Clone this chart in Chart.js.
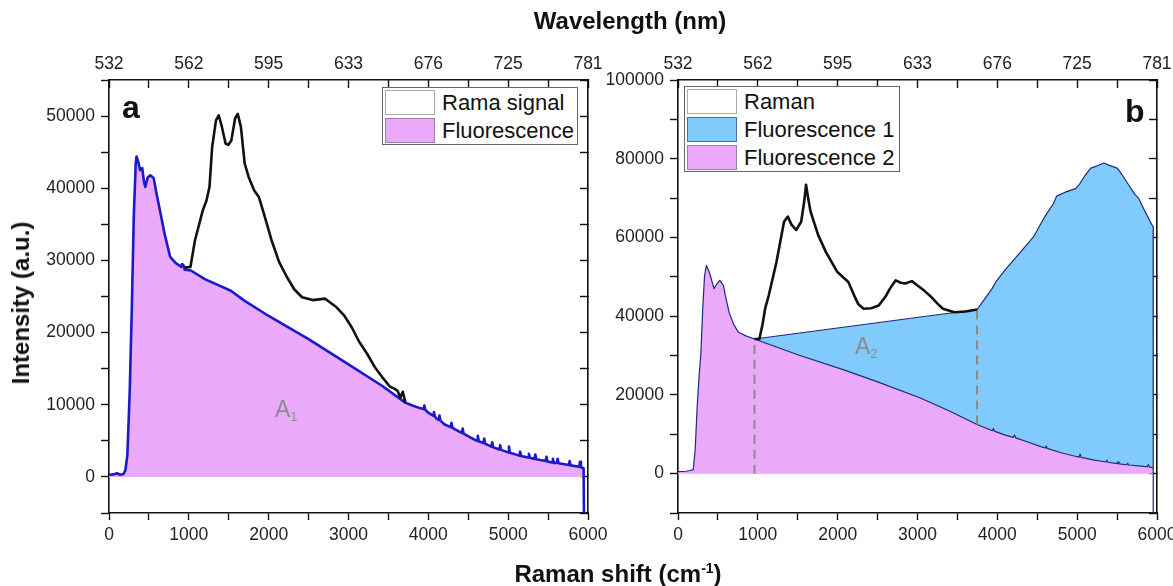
<!DOCTYPE html>
<html>
<head>
<meta charset="utf-8">
<script src="https://cdn.jsdelivr.net/npm/chart.js@4.4.1/dist/chart.umd.min.js"></script>
<style>
body{margin:0;background:#fff;width:1173px;height:586px;overflow:hidden;position:relative;font-family:Arial,"Liberation Sans",sans-serif;}
canvas{position:absolute;top:0;}
#cva{left:0;}
#cvb{left:560px;}
.t{position:absolute;white-space:nowrap;color:#111;line-height:1;}
.ttl{font-weight:bold;font-size:24px;}
.tag{font-weight:bold;font-size:32px;}
.area{color:#8c8c8c;font-size:23px;}
.area sub{font-size:13px;vertical-align:-4px;}
.lg{position:absolute;border:1px solid #666;background:#fff;box-sizing:border-box;}
.row{position:absolute;left:2px;height:25px;display:flex;align-items:center;}
.sw{width:50px;height:25px;box-sizing:border-box;border:1px solid #999;margin-right:7px;}
.row span{font-size:22px;color:#111;}
</style>
</head>
<body>
<canvas id="cva" width="640" height="586"></canvas>
<canvas id="cvb" width="613" height="586"></canvas>

<div class="t ttl" style="left:630px;top:9px;transform:translateX(-50%);">Wavelength (nm)</div>
<div class="t ttl" style="left:618px;top:561px;transform:translateX(-50%);">Raman shift (cm<sup style="font-size:14px;vertical-align:9px;">-1</sup>)</div>
<div class="t ttl" style="left:21px;top:303px;transform:translate(-50%,-50%) rotate(-90deg);">Intensity (a.u.)</div>

<div class="t tag" style="left:122px;top:91px;">a</div>
<div class="t tag" style="left:1125px;top:95px;">b</div>
<div class="t area" style="left:275px;top:398px;">A<sub>1</sub></div>
<div class="t area" style="left:855px;top:335px;">A<sub>2</sub></div>

<div class="lg" style="left:382px;top:87px;width:196px;height:58px;">
  <div class="row" style="top:2px;"><div class="sw" style="background:#fff;border-color:#aaa;"></div><span>Rama signal</span></div>
  <div class="row" style="top:30px;"><div class="sw" style="background:#eaa9f9;border-color:#9a7fae;"></div><span>Fluorescence</span></div>
</div>
<div class="lg" style="left:684px;top:86px;width:216px;height:86px;">
  <div class="row" style="top:2px;"><div class="sw" style="background:#fff;border-color:#aaa;"></div><span>Raman</span></div>
  <div class="row" style="top:30px;"><div class="sw" style="background:#80cbfb;border-color:#4a6fa5;"></div><span>Fluorescence 1</span></div>
  <div class="row" style="top:58px;"><div class="sw" style="background:#eaa9f9;border-color:#9a7fae;"></div><span>Fluorescence 2</span></div>
</div>

<script>
/* ═══ DATA ═════════════════════════════════════════════ */
const WAVELENGTH_LABELS = ['532','562','595','633','676','725','781'];

// panel a – fluorescence background (cm-1 / counts)
const A_FLUO_X = [0,60,100,140,180,205,230,260,288,310,335,345,370,390,416,440,455,485,517,540,560,600,646,700,766,840,905,915,930,950,1026,1200,1527,1700,2000,2500,3000,3424,3712,
  3800,3904,3940,3950,3962,4000,4060,4070,4082,4100,4130,4140,4152,4200,4280,4290,4302,4400,4420,4430,4442,4520,4610,4620,4632,4690,4700,4712,4790,4800,4812,4890,4900,4912,
  5000,5010,5022,5140,5150,5162,5250,5260,5272,5330,5340,5352,5470,5480,5492,5550,5560,5572,5610,5620,5632,5760,5770,5782,5890,5900,5912,5945,5950];
const A_FLUO_Y = [300,350,500,300,400,900,3000,12000,24400,36000,43500,44400,43500,42500,42800,40800,40200,41500,41800,41600,41400,39000,36500,33500,30500,29600,29100,29500,29400,28700,28600,27400,25800,24400,22300,19100,15600,12600,10300,
  9900,9500,9400,9900,9300,8900,8500,9000,8400,8100,7900,8500,7800,7300,6900,7500,6800,6200,6100,6700,6000,5500,5000,5700,4950,4700,5300,4600,4200,4800,4100,3800,4400,3750,
  3400,4200,3350,2950,3500,2900,2700,3200,2650,2500,3100,2450,2200,2800,2150,2000,2500,1950,1950,2500,1900,1650,2200,1600,1400,2100,1350,1200,-6000];

// panel a – raman signal on top of the background
const A_RAMAN_X = [950,1020,1077,1174,1221,1259,1292,1340,1374,1412,1460,1494,1532,1580,1613,1652,1700,1748,1819,1877,1940,2036,2130,2228,2320,2418,2550,2708,2850,2950,3042,3130,3231,3330,3424,3520,3580,3616,3650,3680,3712];
const A_RAMAN_Y = [29000,29100,32800,36900,38300,40200,45700,49400,50100,48600,46200,46000,46600,49700,50300,48500,43400,41600,39700,38800,36500,32800,29800,27700,26000,24900,24500,24700,23500,22300,20700,18800,17100,15200,13800,12500,12200,11900,11000,11800,10300];

// panel b – fluorescence 2
const B_F2_X = [0,100,150,191,215,240,265,285,310,333,356,380,404,430,451,480,523,545,569,593,640,700,759,850,958,1500,2087,2500,3036,3400,3746,
  3900,3940,3950,3962,4100,4200,4215,4230,4400,4553,4600,4612,4624,4800,5000,5025,5037,5049,5200,5360,5372,5384,5500,5512,5524,5620,5632,5644,5800,5880,5892,5904,5952];
const B_F2_Y = [500,600,800,1000,6000,17000,25000,30000,42000,50400,52900,51800,50400,48500,47000,48000,49100,48500,47800,45300,41000,37800,35900,35000,34200,30200,26300,23300,19200,15900,12500,
  11200,10900,11500,10800,9800,9200,9800,9100,7900,6800,6500,7000,6400,5300,4300,4200,5000,4150,3500,2950,3400,2900,2550,3000,2500,2250,2600,2200,1900,1750,2300,1700,1500];

// panel b – fluorescence 1 (envelope above fluorescence 2)
const B_F1_X = [958,3746,3842,3934,3984,4100,4222,4340,4458,4600,4700,4743,4850,4933,4980,5025,5100,5170,5250,5336,5400,5450,5502,5560,5644,5720,5768,5833,5873,5936,5952,5953];
const B_F1_Y = [34200,41700,44400,47000,48800,51800,54700,57500,60300,65500,68500,70500,71500,72100,72400,73400,75800,77600,78200,78900,78300,78000,77600,76000,73400,71000,70000,67300,65700,63200,62700,-12000];

// panel b – raman
const B_RAMAN_X = [958,1019,1060,1091,1137,1234,1328,1375,1423,1480,1543,1580,1604,1630,1660,1756,1850,1993,2134,2206,2260,2325,2420,2514,2600,2655,2727,2790,2846,2930,3000,3083,3177,3250,3319,3462,3600,3746];
const B_RAMAN_Y = [34200,34200,38000,41900,45300,53800,64000,65300,63200,61900,64000,69000,73400,70000,66600,60600,56400,51300,48700,45300,43000,41900,42000,42700,45000,47000,49100,48500,48300,48900,47800,46500,44800,43200,41900,41000,41200,41700];

// panel b – integration limits
const B_LIM1_X = [958,958];
const B_LIM1_Y = [0,34200];
const B_LIM2_X = [3746,3746];
const B_LIM2_Y = [12500,41700];

/* ═══ HELPERS ══════════════════════════════════════════ */
const FONT = 'Arial, "Liberation Sans", sans-serif';
const pts = (xs, ys) => xs.map((x, i) => ({x, y: ys[i]}));
function noPad(s){ s.paddingLeft = 0; s.paddingRight = 0; s.paddingTop = 0; s.paddingBottom = 0; }

function makeScales(yMin, yMax, yStep, yMajor, yWidth) {
  const tickFont = {family: FONT, size: 17.5};
  const edge = {color:'#111', width:1.6};
  const tg = len => ({drawOnChartArea:false, tickLength:len, tickColor:'#111', tickWidth:1.4});
  return {
    x: {type:'linear', position:'bottom', min:0, max:6000, border:edge, grid:tg(7),
      ticks:{stepSize:500, maxTicksLimit:1000, autoSkip:false, maxRotation:0, padding:5, color:'#222', font:tickFont,
        callback: v => v % 1000 === 0 ? String(v) : ''},
      afterFit: s => { s.height = 73; noPad(s); }},
    xTop: {type:'linear', position:'top', min:0, max:6000, border:edge, grid:tg(-8),
      ticks:{stepSize:500, maxTicksLimit:1000, autoSkip:false, maxRotation:0, padding:13, color:'#222', font:tickFont,
        callback: v => v % 1000 === 0 ? WAVELENGTH_LABELS[v / 1000] : ''},
      afterFit: s => { s.height = 80; noPad(s); }},
    y: {type:'linear', position:'left', min:yMin, max:yMax, border:edge, grid:tg(8),
      ticks:{stepSize:yStep, maxTicksLimit:1000, autoSkip:false, padding:6, color:'#222', font:tickFont,
        callback: v => v % yMajor === 0 ? String(v) : ''},
      afterFit: s => { s.width = yWidth; noPad(s); }},
    yRight: {type:'linear', position:'right', min:yMin, max:yMax, border:edge, grid:tg(-8),
      ticks:{stepSize:yStep, maxTicksLimit:1000, display:false},
      afterFit: s => { s.width = 0; noPad(s); }}
  };
}

function baseOptions(scales, padRight) {
  return {
    responsive:false, animation:false, events:[],
    layout:{padding:{left:0, right:padRight, top:0, bottom:0}},
    elements:{point:{radius:0}, line:{tension:0, borderJoinStyle:'round'}},
    plugins:{legend:{display:false}, tooltip:{enabled:false}, filler:{drawTime:'beforeDatasetsDraw'}},
    scales
  };
}

/* ═══ PANEL A ══════════════════════════════════════════ */
new Chart(document.getElementById('cva'), {
  type:'line',
  data:{datasets:[
    {label:'Rama signal', data:pts(A_RAMAN_X, A_RAMAN_Y), borderColor:'#111', borderWidth:2.6, fill:false},
    {label:'Fluorescence', data:pts(A_FLUO_X, A_FLUO_Y), borderColor:'#1a1ac8', borderWidth:2.6,
      backgroundColor:'#eaa9f9', fill:'origin'}
  ]},
  options: baseOptions(makeScales(-5000, 55000, 5000, 10000, 109), 52)
});

/* ═══ PANEL B ══════════════════════════════════════════ */
new Chart(document.getElementById('cvb'), {
  type:'line',
  data:{datasets:[
    {label:'Raman', data:pts(B_RAMAN_X, B_RAMAN_Y), borderColor:'#111', borderWidth:2.6, fill:false, order:0},
    {label:'Fluorescence 1', data:pts(B_F1_X, B_F1_Y), borderColor:'#1f2a7a', borderWidth:1.2,
      backgroundColor:'#80cbfb', fill:'+1', order:2},
    {label:'Fluorescence 2', data:pts(B_F2_X, B_F2_Y), borderColor:'#1f2a7a', borderWidth:1.2,
      backgroundColor:'#eaa9f9', fill:'origin', order:3},
    {label:'lim1', data:pts(B_LIM1_X, B_LIM1_Y), borderColor:'#8a8a8a', borderWidth:2, borderDash:[9,6], fill:false, order:1},
    {label:'lim2', data:pts(B_LIM2_X, B_LIM2_Y), borderColor:'#8a8a8a', borderWidth:2, borderDash:[9,6], fill:false, order:1}
  ]},
  options: baseOptions(makeScales(-10000, 100000, 10000, 20000, 118), 16)
});
</script>
</body>
</html>
